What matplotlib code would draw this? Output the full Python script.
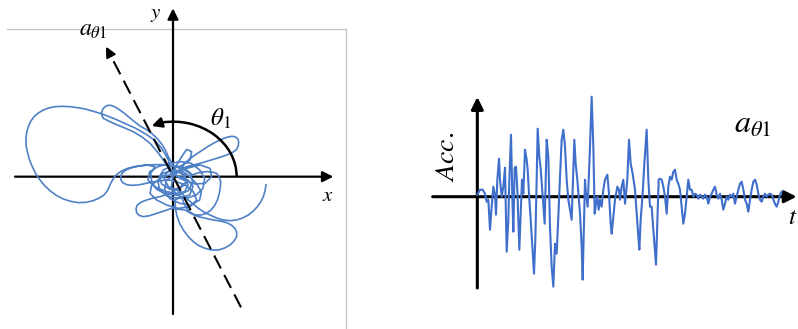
import numpy as np
import matplotlib
matplotlib.use("Agg")
import matplotlib.pyplot as plt
from matplotlib.patches import Arc

plt.rcParams['mathtext.fontset'] = 'stix'
plt.rcParams['font.family'] = ['STIXGeneral', 'DejaVu Serif']

# ground motion orbit in the horizontal plane (x, y), one line per excursion
traj_x = [0, 16, 36, 41, 21, -9, -34, -41, -29, -4, 29, 53, 59, 46, 16, -19, -49, -64, -67, -54,
          -79, -97, -114, -130, -144, -153, -157, -156, -151, -139, -124, -107, -89, -72, -54, -36, -19, -4, 11,
          36, 61, 71, 51, 16, -19, -49, -69, -64, -39, 1, 41, 81, 111, 116, 96, 66, 31, 1,
          20, 45, 60, 50, 20, -15, -40, -45, -30, 0, 30, 50, 70, 85, 80, 55, 20, -10, -25, -20, 5,
          35, 45, 35, 10, -20, -55, -75, -70, -45, -10, 25, 55, 80, 95, 90, 70, 40, 10, -5, 0,
          -14, -24, -34, -46, -59, -76, -94, -114, -134, -154, -174, -197, -219, -242, -264, -287, -309, -332,
          -354, -373, -389, -404, -417, -427, -434, -439, -441, -441, -437, -431, -422, -412, -399, -385, -369,
          -350, -329, -307, -284, -261, -239, -221, -207, -198, -192, -187, -181, -175, -167, -154, -139, -120,
          -99, -77, -54, -34, -14, 4, 21,
          46, 63, 81, 101, 121, 141, 161, 175, 186, 194, 197, 196, 191, 178, 161, 141, 121, 101, 81, 61, 41, 25, 11,
          -14, -23, -34, -48, -64, -81, -99, -117, -134, -151, -167, -178, -187, -196, -204, -211, -214, -213,
          -209, -193, -174, -147, -119, -93, -69, -48, -29, -15, -4,
          26, 41, 56, 51, 21,
          56, 78, 101, 117, 131, 139, 143, 142, 139, 134, 126, 115, 101, 84, 66, 52, 41, 32, 26,
          6, 7, 11, 19, 31, 45, 61, 78, 96, 116, 136, 155, 171, 183, 191, 191, 186, 175, 161, 141, 121, 98, 76, 55, 36,
          -4, -27, -49, -70, -89, -102, -109, -111, -107, -95, -79, -59, -39, -23, -9, 4, 16,
          41, 26, -9, -29, -14, 21, 46,
          76, 93, 111, 131, 151, 171, 191, 209, 226, 241, 253, 263, 271, 276, 279]
traj_y = [0, 15, 5, -18, -35, -38, -22, 0, 20, 32, 30, 10, -18, -42, -55, -53, -38, -15, 10, 30,
          35, 33, 30, 25, 18, 10, 0, -10, -18, -24, -26, -25, -22, -18, -15, -12, -10, -11, -15,
          -25, -45, -70, -90, -95, -85, -70, -50, -25, -5, 10, 25, 35, 25, 0, -20, -22, -10, 10,
          -5, -10, -30, -55, -65, -60, -40, -15, 10, 20, 15, 0, -20, -45, -70, -85, -80, -65, -40, -10, 5,
          -5, -25, -45, -50, -45, -30, -10, 15, 30, 40, 45, 40, 20, -5, -35, -55, -65, -55, -30, -5,
          50, 68, 85, 99, 112, 124, 135, 146, 155, 164, 173, 182, 190, 197, 203, 207, 210, 211,
          210, 206, 200, 191, 180, 166, 150, 133, 115, 95, 75, 52, 30, 9, -10, -27, -42,
          -56, -67, -74, -78, -77, -72, -64, -55, -44, -32, -20, -10, 0, 8, 17, 24, 29,
          32, 35, 36, 36, 35, 31, 25,
          50, 63, 75, 88, 100, 110, 118, 121, 120, 114, 105, 93, 82, 72, 65, 58, 52, 46, 40, 35, 30, 23, 15,
          60, 80, 98, 115, 130, 142, 152, 166, 180, 194, 205, 211, 214, 214, 210, 202, 192, 183,
          175, 167, 158, 147, 135, 119, 100, 76, 50, 28, 10,
          60, 82, 75, 50, 30,
          5, 12, 15, 14, 10, -2, -15, -32, -50, -68, -85, -99, -110, -115, -115, -107, -95, -78, -60,
          -70, -92, -115, -138, -160, -179, -195, -207, -215, -220, -220, -214, -205, -193, -180, -167, -155, -145,
          -138, -133, -130, -125, -120, -111, -100,
          -95, -103, -110, -117, -120, -116, -108, -96, -85, -76, -70, -64, -60, -55, -50, -43, -35,
          -15, 10, 20, 0, -30, -45, -70,
          -95, -106, -115, -124, -130, -132, -130, -124, -115, -103, -90, -76, -60, -43, -25]

# acceleration record projected on the theta_1 direction
step = [0, 8, 16, 23, 28, 33, 38, 43, 48, 53, 56, 60, 65, 68, 73, 78, 83, 88, 93, 96,
        101, 105, 108, 112, 116, 120, 126, 130, 134, 138, 143, 148, 151, 156, 162, 170, 174, 178, 181, 186,
        190, 196, 202, 208, 213, 218, 223, 228, 233, 238, 243, 248, 253, 258, 263, 268, 273, 278, 283, 288,
        291, 295, 300, 304, 308, 313, 316, 320, 323, 326, 331, 338, 343, 348, 352, 356, 360, 364, 368, 373,
        378, 383, 390, 395, 400, 403, 408, 413, 420, 425, 428, 433, 438, 443, 450, 455, 460, 466, 473, 478,
        483, 486, 490, 496, 501, 508, 513, 518, 523, 528, 536, 540, 544, 548,
        553, 558, 563, 568, 573, 578, 583, 588, 593, 598, 603, 608, 613, 618, 623, 628, 633, 638, 643, 648,
        653, 658, 663, 668, 673, 678, 683, 688, 693, 698, 703, 708, 713, 718, 723, 728, 733, 738, 743, 748,
        753, 758, 763, 768, 773, 778, 783, 788, 793, 798, 803, 808, 813, 818, 823, 828, 833, 838, 843, 848,
        853, 858, 863, 868, 873, 878, 883, 888, 893, 898, 903, 908, 913]
acc = [0.02, 0.07, 0.07, 0.03, -0.05, -0.03, -0.33, -0.10, 0.10, 0.02, -0.18, 0.17, 0.38, 0.17, 0.00, 0.10, 0.29, -0.55, -0.23, 0.17,
       0.62, 0.00, -0.35, 0.29, 0.30, 0.07, -0.53, -0.17, 0.17, 0.03, 0.47, 0.37, 0.27, -0.03, -0.33, -0.77, -0.43, 0.17, 0.68, 0.40,
       0.28, 0.00, -0.27, 0.57, 0.40, -0.30, -0.70, -0.90, -0.47, -0.57, -0.20, 0.20, 0.57, 0.67, 0.50, 0.17, -0.03, -0.13, -0.23, 0.27,
       0.57, 0.33, 0.17, 0.00, -0.17, -0.50, -0.83, -0.23, 0.17, 0.03, -0.10, 0.50, 1.00, 0.50, -0.17, -0.07, 0.00, -0.13, -0.03, -0.10,
       0.07, 0.17, 0.22, 0.03, -0.27, -0.37, -0.20, -0.03, 0.10, 0.07, -0.03, 0.10, 0.17, -0.07, 0.17, 0.57, 0.33, 0.23, 0.07, -0.17,
       -0.40, -0.53, -0.23, 0.03, 0.33, 0.67, 0.17, -0.10, -0.10, -0.33, -0.68, -0.27, 0.17, 0.18,
       0.17, 0.10, 0.00, -0.17, 0.10, 0.20, 0.17, 0.25, 0.27, 0.17, 0.13, 0.07, -0.10, -0.27, -0.17, 0.00, 0.17, 0.07, 0.07, 0.00,
       0.03, 0.02, -0.02, 0.02, 0.00, -0.02, 0.02, 0.00, -0.07, 0.00, 0.03, 0.07, 0.10, 0.02, -0.02, 0.03, -0.03, -0.13, -0.07, 0.00,
       -0.03, 0.02, 0.00, 0.03, -0.07, 0.00, 0.07, 0.13, 0.15, 0.07, -0.03, -0.07, -0.15, -0.03, 0.07, 0.15, 0.17, 0.12, 0.03, -0.03,
       -0.05, 0.00, 0.03, 0.00, 0.02, 0.03, 0.02, -0.03, -0.07, -0.10, -0.05, 0.02, 0.05]
dt = 0.02

fig = plt.figure(figsize=(7.98, 3.29), dpi=100)

# light frame around the orbit panel
frame = fig.add_axes([7 / 798, 0, 339 / 798, 300 / 329])
frame.set_xticks([])
frame.set_yticks([])
frame.patch.set_visible(False)
for side in ['left', 'bottom']:
    frame.spines[side].set_visible(False)
for side in ['top', 'right']:
    frame.spines[side].set_color('#c8c8c8')
    frame.spines[side].set_linewidth(1.0)

# ---- orbit panel ----
ax = fig.add_axes([0, 0, 350 / 798, 1])
ax.set_xlim(-519, 531)
ax.set_ylim(-457, 530)
ax.axis('off')

arr = dict(arrowstyle='-|>', color='k', lw=1.6, mutation_scale=16, shrinkA=0, shrinkB=0)
ax.annotate('', xy=(481, 0), xytext=(-474, 0), arrowprops=arr)
ax.annotate('', xy=(0, 505), xytext=(0, -412), arrowprops=arr)

ax.plot(traj_x, traj_y, color='#4f81c7', lw=1.2, solid_joinstyle='round', zorder=3)

# rotated direction a_theta1 (dashed)
ax.plot([204, -190], [-392, 369], color='k', lw=1.5, dashes=(7, 3.5), zorder=4)
ax.annotate('', xy=(-201, 390), xytext=(-188, 365),
            arrowprops=dict(arrowstyle='-|>', color='k', lw=1.5, mutation_scale=15,
                            shrinkA=0, shrinkB=0), zorder=4)

# theta_1 arc
ax.add_patch(Arc((0, 0), 382, 330, theta1=0, theta2=101, color='k', lw=1.8, zorder=4))
ax.annotate('', xy=(-64, 152), xytext=(-34, 162),
            arrowprops=dict(arrowstyle='-|>', color='k', lw=1.8, mutation_scale=15,
                            shrinkA=0, shrinkB=0), zorder=4)

ax.text(-51, 488, r'$y$', fontsize=15, ha='center', va='center')
ax.text(466, -57, r'$x$', fontsize=15, ha='center', va='center')
ax.text(-239, 440, r'$a_{\theta 1}$', fontsize=17, ha='center', va='center')
ax.text(143, 172, r'$\theta_1$', fontsize=18, ha='center', va='center')

# ---- time history panel ----
bx = fig.add_axes([420 / 798, 0, 378 / 798, 1])
bx.set_xlim(-172 * dt, 962 * dt)
bx.set_ylim(-1.323, 1.967)
bx.axis('off')

t = np.array(step) * dt
arr2 = dict(arrowstyle='-|>', color='k', lw=2.2, mutation_scale=18, shrinkA=0, shrinkB=0)
bx.annotate('', xy=(958 * dt, 0), xytext=(-134 * dt, 0), arrowprops=arr2)
bx.annotate('', xy=(0, 0.997), xytext=(0, -0.913), arrowprops=arr2)

bx.plot(t, acc, color='#3f6fcb', lw=1.5, solid_joinstyle='round', zorder=3)

bx.text(-1.82, 0.40, r'$Acc.$', fontsize=20, rotation=90, ha='center', va='center')
bx.text(16.5, 0.72, r'$a_{\theta 1}$', fontsize=23, ha='center', va='center')
bx.text(19.22, -0.21, r'$t$', fontsize=18, ha='right', va='center')

fig.savefig('out.png', dpi=100)
